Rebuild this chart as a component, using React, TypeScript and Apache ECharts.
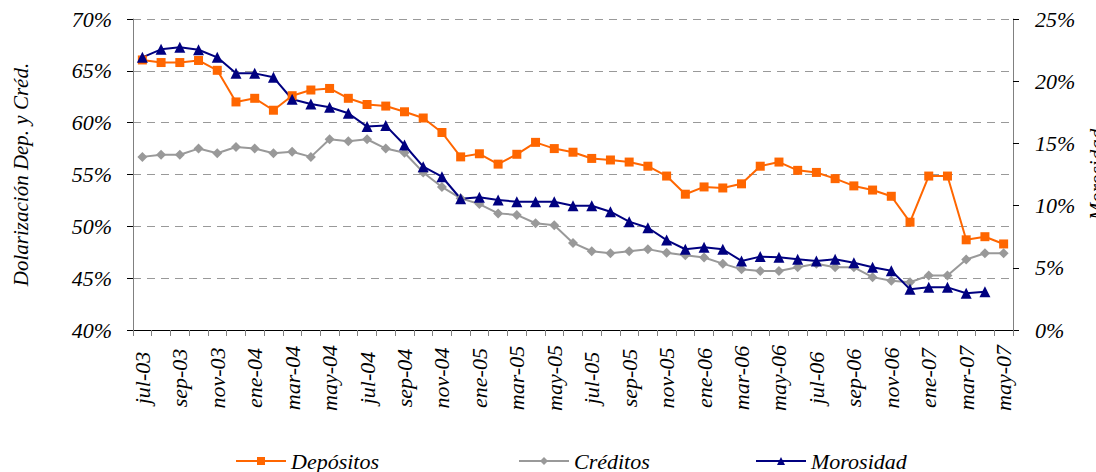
import React, { useEffect, useRef } from "react";
import * as echarts from "echarts";

const categories = [
  "jul-03","ago-03","sep-03","oct-03","nov-03","dic-03",
  "ene-04","feb-04","mar-04","abr-04","may-04","jun-04","jul-04","ago-04","sep-04","oct-04","nov-04","dic-04",
  "ene-05","feb-05","mar-05","abr-05","may-05","jun-05","jul-05","ago-05","sep-05","oct-05","nov-05","dic-05",
  "ene-06","feb-06","mar-06","abr-06","may-06","jun-06","jul-06","ago-06","sep-06","oct-06","nov-06","dic-06",
  "ene-07","feb-07","mar-07","abr-07","may-07",
];

const depositos = [
  66.05, 65.8, 65.8, 66.0, 65.05, 62.0,
  62.35, 61.2, 62.6, 63.15, 63.3, 62.35, 61.75, 61.6, 61.05, 60.45, 59.05, 56.7,
  57.0, 56.0, 56.95, 58.1, 57.5, 57.15, 56.55, 56.4, 56.2, 55.8, 54.85, 53.1,
  53.8, 53.7, 54.1, 55.8, 56.2, 55.4, 55.2, 54.6, 53.9, 53.5, 52.9, 50.4,
  54.85, 54.85, 48.7, 49.0, 48.3,
];

const creditos = [
  56.7, 56.9, 56.9, 57.5, 57.05, 57.65,
  57.5, 57.05, 57.2, 56.7, 58.4, 58.2, 58.4, 57.5, 57.1, 55.2, 53.8, 52.7,
  52.15, 51.25, 51.1, 50.3, 50.1, 48.4, 47.6, 47.4, 47.6, 47.8, 47.45, 47.2,
  47.0, 46.4, 45.85, 45.7, 45.7, 46.05, 46.4, 46.05, 46.05, 45.1, 44.75, 44.6,
  45.25, 45.25, 46.8, 47.4, 47.4,
];

const morosidad = [
  21.92, 22.56, 22.72, 22.53, 21.92, 20.63,
  20.63, 20.31, 18.55, 18.17, 17.9, 17.42, 16.35, 16.43, 14.87, 13.13, 12.32, 10.55,
  10.67, 10.45, 10.31, 10.31, 10.31, 9.99, 9.99, 9.51, 8.71, 8.22, 7.23, 6.49,
  6.65, 6.49, 5.55, 5.9, 5.84, 5.68, 5.55, 5.68, 5.41, 5.04, 4.77, 3.27,
  3.43, 3.43, 2.95, 3.08, null,
];

const FONT = "Liberation Serif";

export default function App() {
  const ref = useRef<HTMLDivElement>(null);
  useEffect(() => {
    const chart = echarts.init(ref.current!, undefined, { renderer: "svg" });
    const txt = { fontFamily: FONT, fontStyle: "italic" as const, fontSize: 22, color: "#000" };
    const legendBase = {
      top: 447,
      itemWidth: 50,
      itemHeight: 10,
      padding: [2, 5, 2, 5],
      textStyle: { ...txt, fontSize: 22, lineHeight: 24 },
    };
    chart.setOption({
      animation: false,
      backgroundColor: "#fff",
      textStyle: { fontFamily: FONT, fontStyle: "italic" },
      grid: { left: 133, right: 83, top: 19, bottom: 142, containLabel: false, outerBoundsMode: "none" },
      legend: [
        { ...legendBase, left: 230, data: ["Depósitos"] },
        { ...legendBase, left: 513, data: ["Créditos"] },
        { ...legendBase, left: 750, data: ["Morosidad"] },
      ],
      xAxis: {
        type: "category",
        data: categories,
        boundaryGap: true,
        axisLine: { lineStyle: { color: "#000", width: 1 } },
        axisTick: { show: true, interval: 0, length: 6, lineStyle: { color: "#808080" } },
        axisLabel: { ...txt, fontSize: 22, rotate: 90, interval: 1, align: "center", margin: 48 },
      },
      yAxis: [
        {
          type: "value",
          min: 40,
          max: 70,
          interval: 5,
          name: "Dolarización Dep. y Créd.",
          nameLocation: "middle",
          nameRotate: 90,
          nameGap: 102,
          nameTextStyle: { ...txt, fontSize: 21 },
          axisLine: { show: true, lineStyle: { color: "#808080" } },
          axisTick: { show: true, length: 6, lineStyle: { color: "#000" } },
          axisLabel: { ...txt, formatter: "{value}%", margin: 21 },
          splitLine: { show: true, lineStyle: { color: "#999", type: [8, 6], width: 1 } },
        },
        {
          type: "value",
          min: 0,
          max: 25,
          interval: 5,
          name: "Morosidad",
          nameLocation: "middle",
          nameRotate: 90,
          nameGap: 56,
          nameTextStyle: { ...txt, fontSize: 21 },
          axisLine: { show: true, lineStyle: { color: "#808080" } },
          axisTick: { show: true, length: 6, lineStyle: { color: "#000" } },
          axisLabel: { ...txt, formatter: "{value}%", margin: 22 },
          splitLine: { show: false },
        },
      ],
      series: [
        {
          name: "Depósitos",
          type: "line",
          data: depositos,
          yAxisIndex: 0,
          symbol: "rect",
          symbolSize: 9,
          color: "#FF6600",
          lineStyle: { width: 2, color: "#FF6600" },
          itemStyle: { color: "#FF6600" },
        },
        {
          name: "Créditos",
          type: "line",
          data: creditos,
          yAxisIndex: 0,
          symbol: "diamond",
          symbolSize: 10,
          color: "#999999",
          lineStyle: { width: 2, color: "#999999" },
          itemStyle: { color: "#999999" },
        },
        {
          name: "Morosidad",
          type: "line",
          data: morosidad,
          yAxisIndex: 1,
          symbol: "triangle",
          symbolSize: 11,
          color: "#000080",
          lineStyle: { width: 2, color: "#000080" },
          itemStyle: { color: "#000080" },
        },
      ],
    });
    return () => chart.dispose();
  }, []);
  return <div ref={ref} style={{ width: 1096, height: 472, position: "absolute", left: 0, top: 0 }} />;
}
